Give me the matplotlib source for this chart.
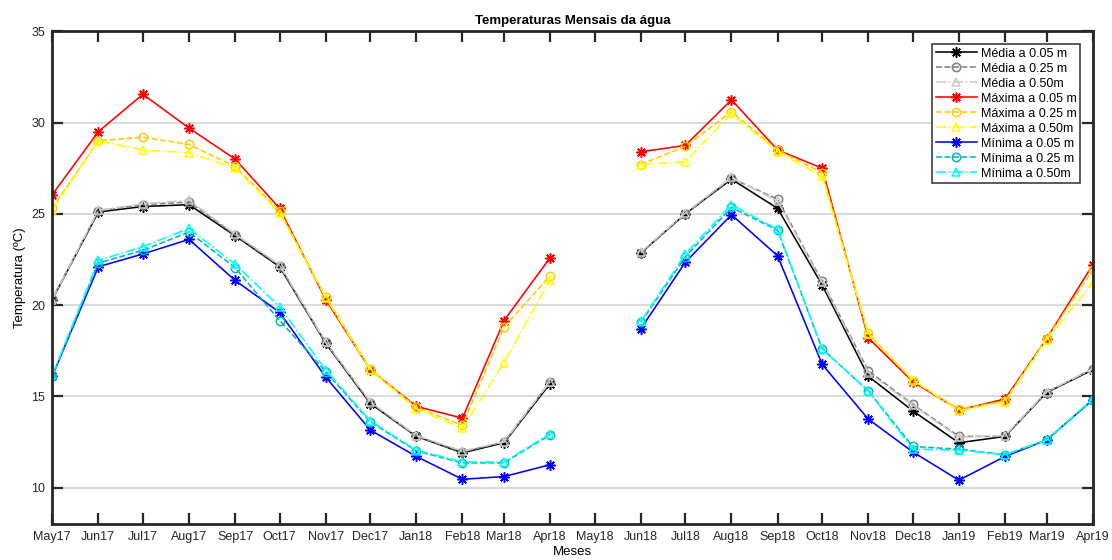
import numpy as np
import pandas as pd
import matplotlib
matplotlib.use("Agg")
import matplotlib.pyplot as plt

plt.rcParams['font.family'] = ['Liberation Sans', 'DejaVu Sans']

nan = np.nan

month_labels = ["May17", "Jun17", "Jul17", "Aug17", "Sep17", "Oct17", "Nov17", "Dec17",
                "Jan18", "Feb18", "Mar18", "Apr18", "May18", "Jun18", "Jul18", "Aug18",
                "Sep18", "Oct18", "Nov18", "Dec18", "Jan19", "Feb19", "Mar19", "Apr19"]
months = pd.date_range("2017-05-01", periods=len(month_labels), freq="MS")

# Mean monthly temperatures
media_005 = [20.3, 25.1, 25.4, 25.5, 23.8, 22.1, 17.9, 14.6, 12.8, 11.9, 12.45, 15.7,
             nan, 22.85, 25.0, 26.9, 25.3, 21.1, 16.1, 14.2, 12.45, 12.8, 15.2, 16.45]
media_025 = [20.35, 25.15, 25.5, 25.65, 23.85, 22.15, 17.95, 14.65, 12.8, 11.95, 12.5, 15.8,
             nan, 22.85, 25.0, 26.95, 25.8, 21.3, 16.4, 14.55, 12.8, 12.8, 15.2, 16.5]
media_050 = [20.3, 25.2, 25.55, 25.75, 23.9, 22.2, 17.95, 14.7, 12.85, 12.0, 12.5, 15.8,
             nan, 22.9, 25.05, 27.0, 25.7, 21.25, 16.3, 14.5, 12.75, 12.85, 15.25, 16.5]

# Maximum monthly temperatures
maxima_005 = [26.05, 29.5, 31.55, 29.7, 28.0, 25.3, 20.3, 16.45, 14.45, 13.8, 19.15, 22.6,
              nan, 28.4, 28.75, 31.25, 28.5, 27.5, 18.2, 15.8, 14.25, 14.85, 18.15, 22.2]
maxima_025 = [25.3, 29.0, 29.2, 28.8, 27.6, 25.15, 20.45, 16.5, 14.4, 13.4, 18.8, 21.6,
              nan, 27.7, 28.7, 30.6, 28.5, 27.25, 18.45, 15.85, 14.3, 14.75, 18.15, 21.9]
maxima_050 = [25.2, 29.0, 28.5, 28.35, 27.5, 25.05, 20.4, 16.45, 14.3, 13.25, 16.85, 21.4,
              nan, 27.7, 27.85, 30.5, 28.4, 27.05, 18.4, 15.9, 14.2, 14.7, 18.1, 21.2]

# Minimum monthly temperatures
minima_005 = [16.1, 22.1, 22.8, 23.6, 21.35, 19.6, 16.05, 13.15, 11.7, 10.45, 10.6, 11.25,
              nan, 18.7, 22.35, 24.95, 22.7, 16.75, 13.75, 11.95, 10.4, 11.7, 12.6, 14.8]
minima_025 = [16.1, 22.3, 23.0, 24.0, 22.05, 19.15, 16.35, 13.6, 12.0, 11.35, 11.35, 12.9,
              nan, 19.05, 22.65, 25.35, 24.1, 17.6, 15.3, 12.25, 12.1, 11.8, 12.6, 14.8]
minima_050 = [16.15, 22.45, 23.2, 24.2, 22.25, 19.9, 16.45, 13.65, 12.05, 11.4, 11.4, 12.95,
              nan, 19.1, 22.8, 25.5, 24.15, 17.6, 15.3, 12.1, 12.05, 11.8, 12.6, 14.85]

ASTERISK = (8, 2, 0)

series = [
    (media_005, "Média a 0.05 m", "black", "-", ASTERISK),
    (media_025, "Média a 0.25 m", (0.5, 0.5, 0.5), "--", "o"),
    (media_050, "Média a 0.50m", (0.8, 0.8, 0.8), "-.", "^"),
    (maxima_005, "Máxima a 0.05 m", "red", "-", ASTERISK),
    (maxima_025, "Máxima a 0.25 m", (1.0, 0.8, 0.0), "--", "o"),
    (maxima_050, "Máxima a 0.50m", (1.0, 1.0, 0.0), "-.", "^"),
    (minima_005, "Mínima a 0.05 m", "blue", "-", ASTERISK),
    (minima_025, "Mínima a 0.25 m", (0.0, 0.72, 0.72), "--", "o"),
    (minima_050, "Mínima a 0.50m", (0.0, 1.0, 1.0), "-.", "^"),
]

fig = plt.figure(figsize=(11.12, 5.6), dpi=100)
ax = fig.add_axes([0.047, 0.0643, 0.9356, 0.8797])

for values, label, color, ls, mk in series:
    ax.plot(months, values, color=color, linestyle=ls, marker=mk,
            markersize=7.5 if mk == ASTERISK else 6,
            markerfacecolor="none", markeredgecolor=color,
            markeredgewidth=1.1, linewidth=1.15, label=label)

ax.set_xlim(months[0], months[-1])
ax.set_ylim(8, 35)
ax.set_xticks(months)
ax.set_xticklabels(month_labels)
ax.set_yticks([10, 15, 20, 25, 30, 35])

ax.grid(axis="y", color=(0.86, 0.86, 0.86), linewidth=1.5)
ax.set_axisbelow(True)
for sp in ax.spines.values():
    sp.set_linewidth(2.0)
    sp.set_color((0.15, 0.15, 0.15))
ax.tick_params(direction="in", length=8, width=1.6, top=True, right=True,
               labelsize=9, colors=(0.15, 0.15, 0.15), pad=5)

ax.set_title("Temperaturas Mensais da água", fontsize=9.5, fontweight="bold", pad=5)
ax.set_xlabel("Meses", fontsize=9.5, labelpad=2)
ax.set_ylabel("Temperatura (ºC)", fontsize=9.5, labelpad=4)

leg = ax.legend(loc="upper right", fontsize=9, fancybox=False, framealpha=1,
                edgecolor=(0.25, 0.25, 0.25), handlelength=3.3, labelspacing=0.24,
                borderpad=0.3, handletextpad=0.3, borderaxespad=1.0)
leg.get_frame().set_linewidth(1.2)

fig.savefig("out.png", dpi=100)
